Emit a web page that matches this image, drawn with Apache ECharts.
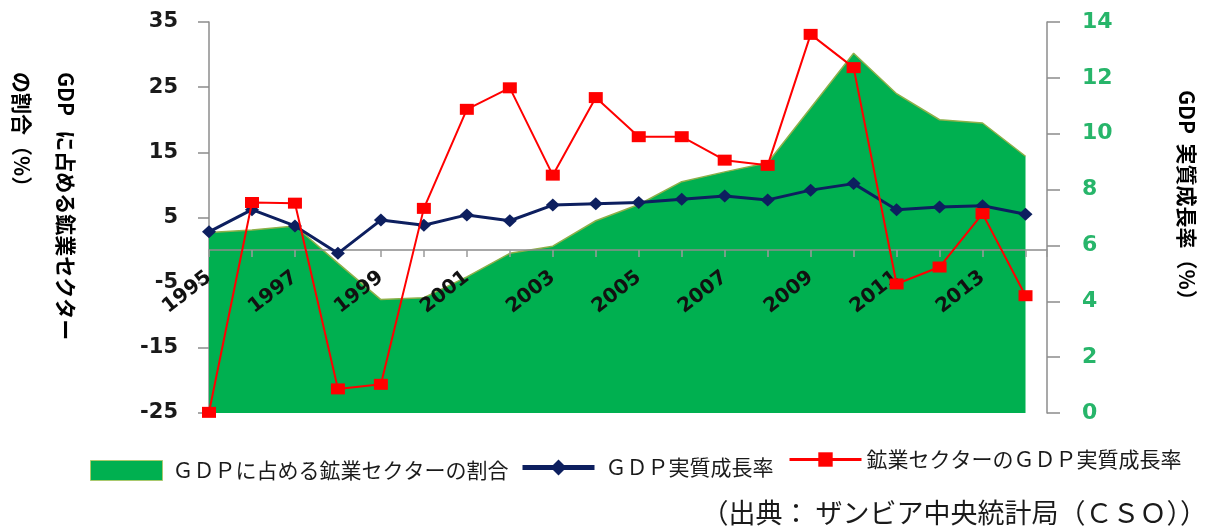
<!DOCTYPE html>
<html><head><meta charset="utf-8">
<script src="https://cdn.jsdelivr.net/npm/echarts@6/dist/echarts.min.js"></script>
<style>html,body{margin:0;padding:0;background:#fff}#c{width:1209px;height:529px}</style>
</head><body><div id="c"></div>
<script>
const years = [1995,1996,1997,1998,1999,2000,2001,2002,2003,2004,2005,2006,2007,2008,2009,2010,2011,2012,2013,2014];
const miningShare = [2.7,3.1,3.7,-2.0,-7.6,-7.3,-4.1,-0.5,0.6,4.5,7.0,10.5,12.0,13.4,21.8,30.2,24.0,20.0,19.5,14.4];
const gdpGrowth = [2.8,6.2,3.7,-0.5,4.6,3.8,5.4,4.5,6.9,7.1,7.3,7.8,8.3,7.7,9.2,10.2,6.2,6.6,6.8,5.5];
const miningGrowth = [-24.9,7.3,7.2,-21.3,-20.6,6.4,21.6,24.9,11.5,23.4,17.4,17.4,13.8,13.0,33.1,28.0,-5.2,-2.6,5.6,-7.0];
const leftAxisRange = [-25, 35, 10];
const rightAxisRange = [0, 14, 2];
const seriesNames = ['ＧＤＰに占める鉱業セクターの割合', 'ＧＤＰ実質成長率', '鉱業セクターのＧＤＰ実質成長率'];
const leftAxisTitle = ['GDP   に占める鉱業セクター', 'の割合（%）'];
const rightAxisTitle = 'GDP  実質成長率（%）';
const sourceText = '（出典： ザンビア中央統計局（ＣＳＯ））';

const pairs = arr => years.map((y, i) => [y, arr[i]]);
const JP = '"Noto Sans CJK JP", sans-serif';
const NUM = '"DejaVu Sans", Verdana, sans-serif';

const GRID_TOP = 22, GRID_BOTTOM = 116, H = 529;
const plotH = H - GRID_TOP - GRID_BOTTOM;
const zeroOffset = plotH * (0 - leftAxisRange[0]) / (leftAxisRange[1] - leftAxisRange[0]);

const chart = echarts.init(document.getElementById('c'));
chart.setOption({
  animation: false,
  backgroundColor: '#fff',
  grid: { left: 209, right: 162, top: GRID_TOP, bottom: GRID_BOTTOM, containLabel: false },
  xAxis: {
    type: 'value', min: years[0], max: years[years.length - 1] + 0.5, interval: 1, z: 2,
    offset: -zeroOffset,
    axisLine: { onZero: false, lineStyle: { color: '#8c8c8c', width: 1.5 } },
    axisTick: { show: true, length: 7, lineStyle: { color: '#9a9a9a', width: 1.5 } },
    splitLine: { show: false },
    axisLabel: {
      rotate: 38, margin: 25, fontFamily: NUM, fontWeight: 'bold', fontSize: 20, color: '#111',
      hideOverlap: false, showMinLabel: true, showMaxLabel: true,
      formatter: v => (Number.isInteger(v) && v % 2 === 1) ? String(v) : ''
    }
  },
  yAxis: [
    {
      type: 'value', position: 'left', min: leftAxisRange[0], max: leftAxisRange[1], interval: leftAxisRange[2],
      axisLine: { show: true, lineStyle: { color: '#8c8c8c', width: 1.5 } },
      axisTick: { show: true, length: 11, lineStyle: { color: '#8c8c8c', width: 1.5 } },
      splitLine: { show: false },
      axisLabel: { margin: 31, fontFamily: NUM, fontWeight: 'bold', fontSize: 21, color: '#1a1a1a' }
    },
    {
      type: 'value', position: 'right', min: rightAxisRange[0], max: rightAxisRange[1], interval: rightAxisRange[2],
      axisLine: { show: true, lineStyle: { color: '#8c8c8c', width: 1.5 } },
      axisTick: { show: true, length: 13, lineStyle: { color: '#8c8c8c', width: 1.5 } },
      splitLine: { show: false },
      axisLabel: { margin: 35, fontFamily: NUM, fontWeight: 'bold', fontSize: 22, color: '#27b56a', align: 'left' }
    }
  ],
  legend: [
    {
      data: [{ name: seriesNames[0], icon: 'rect', itemStyle: { color: '#00b050', borderColor: '#a9c96e', borderWidth: 1 } }],
      left: 90, top: 460, padding: 0, itemWidth: 72, itemHeight: 20, selectedMode: false,
      textStyle: { fontFamily: JP, fontSize: 21, color: '#1a1a1a', padding: [16, 0, 0, 5] }
    },
    {
      data: [{ name: seriesNames[1], lineStyle: { width: 5 } }],
      left: 520, top: 457, padding: 0, itemWidth: 72, itemHeight: 20, selectedMode: false,
      textStyle: { fontFamily: JP, fontSize: 21, color: '#1a1a1a', padding: [22, 0, 0, 6] }
    },
    {
      data: [{ name: seriesNames[2], lineStyle: { width: 3 } }],
      left: 788, top: 449, padding: 0, itemWidth: 72, itemHeight: 18, selectedMode: false,
      textStyle: { fontFamily: JP, fontSize: 21, color: '#1a1a1a', padding: [40, 0, 0, 0] }
    }
  ],
  series: [
    {
      name: seriesNames[0], type: 'line', yAxisIndex: 0, z: 1, symbol: 'none', smooth: false,
      data: pairs(miningShare),
      lineStyle: { color: '#8fb04a', width: 1.5 },
      itemStyle: { color: '#00b050' },
      areaStyle: { color: '#00b050', opacity: 1, origin: 'start' }
    },
    {
      name: seriesNames[1], type: 'line', yAxisIndex: 0, z: 3, symbol: 'diamond', symbolSize: [14, 13],
      data: pairs(gdpGrowth),
      lineStyle: { color: '#0d1f5f', width: 3 },
      itemStyle: { color: '#0d1f5f' }
    },
    {
      name: seriesNames[2], type: 'line', yAxisIndex: 0, z: 4, symbol: 'rect', symbolSize: [14, 11],
      data: pairs(miningGrowth),
      lineStyle: { color: '#ff0000', width: 2 },
      itemStyle: { color: '#ff0000' }
    }
  ],
  graphic: [
    { type: 'text', x: 66, y: 72, rotation: -Math.PI / 2,
      style: { text: leftAxisTitle[0], font: 'bold 21px ' + JP, fill: '#000', align: 'left', verticalAlign: 'middle' } },
    { type: 'text', x: 22, y: 72, rotation: -Math.PI / 2,
      style: { text: leftAxisTitle[1], font: 'bold 21px ' + JP, fill: '#000', align: 'left', verticalAlign: 'middle' } },
    { type: 'text', x: 1187, y: 90, rotation: -Math.PI / 2,
      style: { text: rightAxisTitle, font: 'bold 21px ' + JP, fill: '#000', align: 'left', verticalAlign: 'middle' } },
    { type: 'text', x: 1207, y: 513,
      style: { text: sourceText, font: '27px ' + JP, fill: '#1a1a1a', align: 'right', verticalAlign: 'middle' } }
  ]
});
</script></body></html>
